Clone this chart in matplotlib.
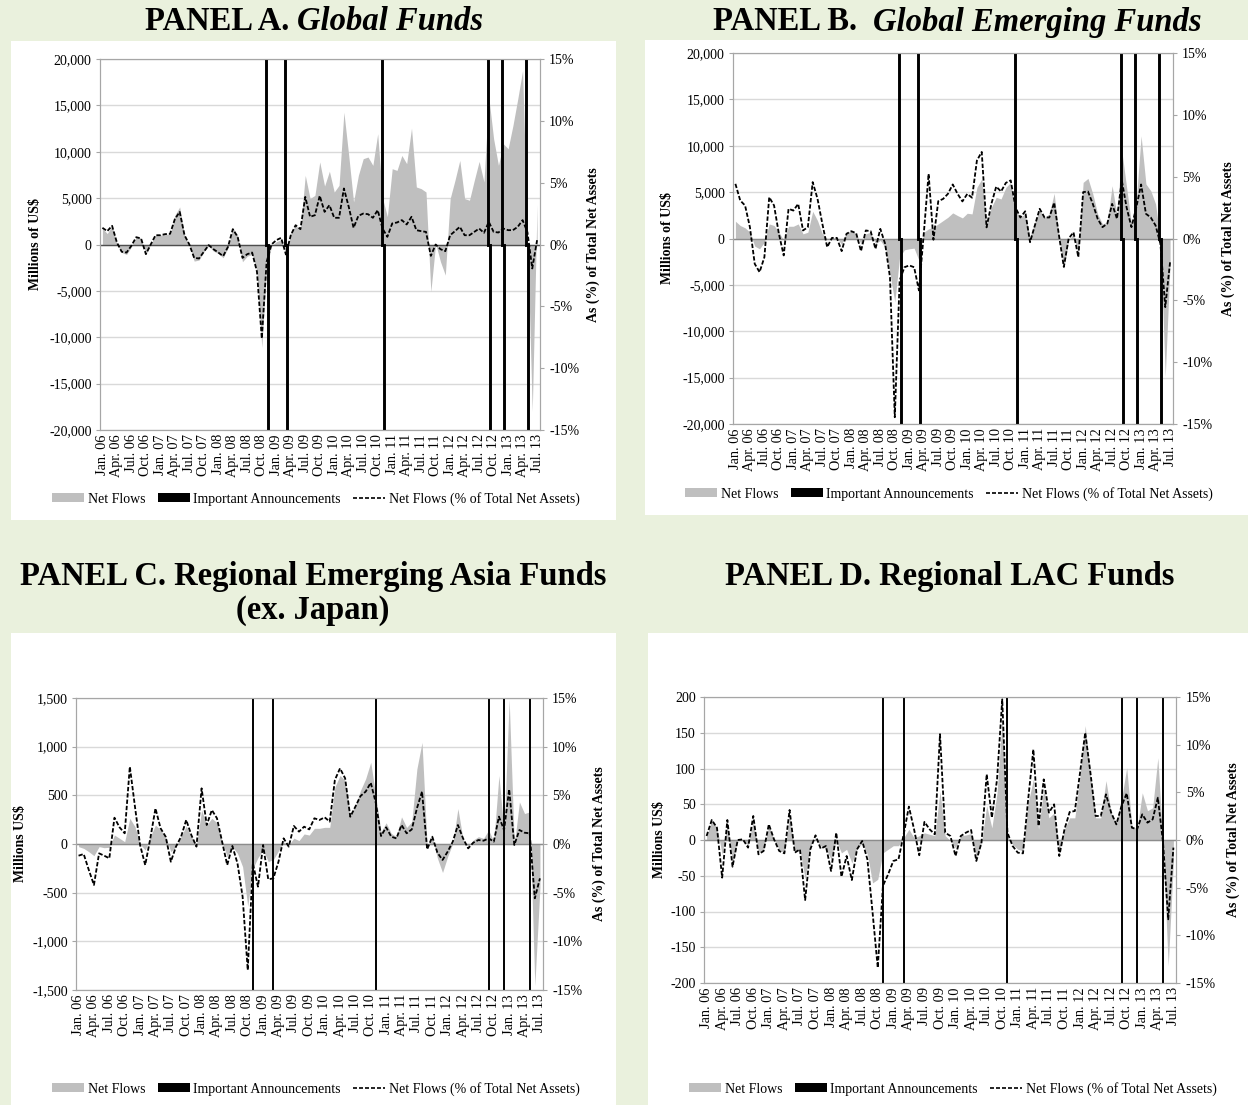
import numpy as np
import matplotlib
matplotlib.use("Agg")
import matplotlib.pyplot as plt
from matplotlib.patches import Patch, Rectangle
from matplotlib.lines import Line2D
from matplotlib.ticker import FuncFormatter, FixedLocator

plt.rcParams['font.family'] = 'Liberation Serif'

# Monthly observations, Jan 2006 - Jul 2013
MONTH_ABBR = ['Jan.', 'Feb.', 'Mar.', 'Apr.', 'May', 'Jun.',
              'Jul.', 'Aug.', 'Sep.', 'Oct.', 'Nov.', 'Dec.']
months = [f"{m} {y:02d}" for y in range(6, 14) for m in MONTH_ABBR][:91]

# Fed announcement months
announcements = ['Nov. 08', 'Mar. 09', 'Nov. 10', 'Sep. 12', 'Dec. 12', 'May 13']

# Panel A: global funds (net flows, millions of US$; % of TNA)
global_flows = [
    1720, 1180, 2000, 100, -860, -1075, -250, 790, 720, -1075,
    0, 1000, 1000, 1110, 1110, 3150, 4050, 1000, -70, -1790,
    -1680, -790, -140, -720, -970, -1430, -360, 1790, 1000, -1860,
    -1250, -1075, -2940, -11100, -2500, -200, 300, 500, -1000, 1300,
    2000, 1700, 7450, 4950, 5300, 8900, 6300, 7900, 5660, 6380,
    14260, 9600, 4590, 7460, 9250, 9430, 8530, 11940, 5000, 3000,
    8170, 7990, 9600, 8710, 12540, 6200, 6020, 5660, -5090, 100,
    -1860, -3300, 4950, 6920, 9070, 4950, 4770, 6920, 8960, 6740,
    15880, 11400, 8530, 10860, 10320, 12830, 15700, 18750, 1000, -18000,
    4300]
global_pct = [
    1.35, 1.08, 1.51, 0.16, -0.59, -0.65, -0.1, 0.59, 0.49, -0.78,
    0.0, 0.75, 0.75, 0.84, 0.86, 2.05, 2.64, 0.75, 0.0, -1.08,
    -1.13, -0.59, -0.05, -0.38, -0.65, -0.94, -0.19, 1.24, 0.62, -1.08,
    -0.78, -0.65, -2.2, -7.6, -1.4, 0.0, 0.35, 0.54, -0.81, 0.75,
    1.56, 1.24, 3.85, 2.24, 2.37, 3.94, 2.64, 3.18, 2.16, 2.16,
    4.53, 3.05, 1.35, 2.32, 2.5, 2.45, 2.16, 2.78, 1.29, 0.62,
    1.7, 1.78, 1.97, 1.62, 2.24, 1.16, 1.08, 1.02, -0.92, 0.0,
    -0.38, -0.54, 0.75, 1.08, 1.43, 0.75, 0.75, 1.02, 1.29, 0.94,
    1.83, 1.02, 0.97, 1.29, 1.16, 1.16, 1.43, 1.97, 1.0, -1.94,
    0.35]

# Panel B: global emerging funds
gem_flows = [
    1860, 1400, 1150, 680, -820, -1110, -390, 1570, 1400, 680,
    -200, 1320, 1320, 1570, 500, 680, 2930, 1930, 500, 0,
    70, 70, -640, 680, 790, 500, -570, 500, 680, -570,
    -210, -930, -3790, -6840, -2000, -1220, -1110, -1040, -2360, 680,
    1040, 1220, 1570, 1930, 2290, 2760, 2470, 2220, 2720, 2650,
    5510, 6400, 1570, 3360, 4440, 4260, 5510, 6050, 3010, 2290,
    2650, 180, 1750, 3010, 2290, 2650, 4870, 180, -3220, -180,
    500, -1790, 6050, 6480, 4800, 2650, 1570, 1750, 5690, 2500,
    9450, 5510, 1570, 4080, 11060, 5870, 5150, 3720, -200, -14890,
    -2720]
gem_pct = [
    4.42, 3.07, 2.67, 0.92, -2.05, -2.72, -1.51, 3.34, 2.67, 0.38,
    -1.37, 2.4, 2.26, 2.8, 0.65, 0.92, 4.56, 3.21, 1.19, -0.7,
    0.05, 0.05, -1.02, 0.38, 0.59, 0.43, -1.02, 0.65, 0.59, -0.84,
    0.78, -0.43, -3.13, -14.45, -3.4, -2.32, -2.18, -2.32, -4.2, 0.38,
    5.23, -0.1, 3.02, 3.2, 3.61, 4.37, 3.61, 3.0, 3.6, 3.3,
    6.3, 7.0, 0.9, 2.8, 4.2, 3.8, 4.5, 4.7, 2.5, 1.7,
    2.2, -0.3, 1.05, 2.4, 1.7, 1.7, 2.9, 0.24, -2.3, 0.0,
    0.5, -1.5, 3.75, 3.8, 2.8, 1.6, 0.92, 1.2, 2.8, 1.6,
    4.7, 2.5, 0.92, 2.5, 4.37, 2.0, 1.7, 1.05, -0.43, -5.55,
    -1.9]

# Panel C: regional emerging Asia (ex. Japan) funds
asia_flows = [
    -27, -45, -79, -120, -27, -38, -34, 92, 58, 24,
    264, 178, 0, -62, 75, 195, 144, 75, -79, -27,
    75, 185, 75, -10, 349, 195, 264, 219, 24, -130,
    -27, -96, -233, -640, -250, -140, -60, -180, -160, -70,
    20, -10, 60, 35, 103, 92, 161, 161, 171, 171,
    585, 704, 653, 296, 398, 551, 670, 840, 483, 126,
    218, 109, 75, 279, 170, 228, 772, 1044, -27, 75,
    -146, -293, -129, 7, 364, 48, -27, 41, 75, 58,
    143, 24, 704, 109, 1486, -10, 432, 313, 330, -1456,
    -450]
asia_pct = [
    -1.2, -1.03, -2.67, -4.21, -0.96, -1.2, -1.47, 2.7, 1.71, 1.1,
    7.95, 3.84, -0.1, -2.16, 0.58, 3.66, 1.61, 0.75, -1.82, -0.27,
    0.75, 2.47, 0.92, -0.27, 5.72, 1.95, 3.49, 2.64, 0.24, -2.16,
    -0.2, -1.99, -5.4, -12.95, -1.99, -4.38, -0.1, -3.63, -3.53, -1.82,
    0.58, -0.27, 1.85, 1.27, 1.78, 1.5, 2.64, 2.47, 2.74, 2.3,
    6.58, 7.77, 6.75, 2.8, 3.84, 4.93, 5.38, 6.3, 4.18, 0.82,
    1.71, 0.75, 0.58, 1.95, 1.1, 1.5, 3.66, 5.38, -0.55, 0.75,
    -0.89, -1.64, -0.79, 0.24, 1.95, 0.58, -0.45, 0.14, 0.41, 0.34,
    0.58, 0.24, 2.81, 1.44, 5.62, -0.1, 1.44, 1.16, 1.1, -5.58,
    -3.53]

# Panel D: regional LAC funds
lac_flows = [
    5, 28, 17, -20, 24, -32, 0, 1, -8, 27,
    -17, -14, 20, 0, -13, -18, 34, -17, -13, -55,
    -8, 3, -8, -12, -27, -1, -18, -13, -32, -13,
    -4, -20, -60, -55, -18, -13, -8, -8, 3, 15,
    3, 6, 10, 8, 6, 68, 6, -1, -11, 6,
    7, 9, -25, -4, 48, 17, 66, 170, 6, -6,
    -13, -15, 52, 85, 15, 71, 31, 38, -18, 15,
    31, 31, 90, 160, 90, 31, 31, 83, 38, 24,
    57, 101, 20, 15, 66, 41, 45, 115, -8, -176,
    -30]
lac_pct = [
    0.42, 2.1, 1.29, -3.95, 2.1, -2.8, 0.0, 0.07, -0.8, 2.52,
    -1.5, -1.15, 1.64, 0.07, -1.15, -1.4, 3.15, -1.33, -0.98, -6.3,
    -0.98, 0.49, -0.91, -0.63, -3.25, 0.77, -3.85, -1.68, -4.2, -0.98,
    -0.1, -2.03, -7.6, -13.4, -4.8, -3.6, -2.2, -2.03, 0.6, 3.5,
    1.12, -1.6, 1.9, 1.12, 0.6, 11.1, 0.77, 0.42, -1.68, 0.42,
    0.77, 1.05, -2.2, -0.28, 6.9, 2.34, 6.36, 14.75, 0.77, -0.63,
    -1.33, -1.4, 4.27, 9.5, 1.47, 6.36, 2.87, 3.74, -1.68, 1.12,
    2.94, 3.04, 7.06, 11.26, 7.06, 2.52, 2.52, 4.79, 2.87, 1.64,
    3.57, 4.9, 1.29, 1.12, 2.69, 1.82, 2.17, 4.44, -0.28, -8.32,
    -0.8]

# Colours
BG = '#EAF1DD'
AREA = '#BFBFBF'
GRID = '#D9D9D9'
SPINE = '#A6A6A6'

W, H = 1248, 1105


def fig_rect(x0, y0, x1, y1):
    """Pixel box (top-left origin) -> figure fraction rect."""
    return [x0 / W, 1 - y1 / H, (x1 - x0) / W, (y1 - y0) / H]


panels = [
    dict(title=[('PANEL A. ', 'normal'), ('Global Funds', 'italic')],
         title_xy=(314, 22), flows=global_flows, pct=global_pct,
         ymax=20000, ystep=5000, ylabel='Millions of US$',
         box=(11, 41, 616, 520), plot=(100, 59, 539.5, 430),
         ylabel_x=(35, 593), legend_xy=(316, 499),
         zero_color='#4D4D4D', vline_w=2.1, split=0.2),
    dict(title=[('PANEL B.  ', 'normal'), ('Global Emerging Funds', 'italic')],
         title_xy=(957, 22), flows=gem_flows, pct=gem_pct,
         ymax=20000, ystep=5000, ylabel='Millions of US$',
         box=(645, 40, 1248, 515), plot=(733, 53, 1172.5, 424),
         ylabel_x=(668, 1228), legend_xy=(949, 494),
         zero_color='#8C8C8C', vline_w=2.1, split=0.2),
    dict(title=[('PANEL C. Regional Emerging Asia Funds', 'normal')],
         title2='(ex. Japan)',
         title_xy=(313, 577), flows=asia_flows, pct=asia_pct,
         ymax=1500, ystep=500, ylabel='Millions US$',
         box=(11, 633, 616, 1105), plot=(76, 698, 542.5, 990),
         ylabel_x=(21, 599), legend_xy=(316, 1089),
         zero_color='#8C8C8C', vline_w=1.4, split=0.0),
    dict(title=[('PANEL D. Regional LAC Funds', 'normal')],
         title_xy=(950, 577), flows=lac_flows, pct=lac_pct,
         ymax=200, ystep=50, ylabel='Millions US$',
         box=(648, 633, 1248, 1105), plot=(704, 697, 1176, 983),
         ylabel_x=(660, 1233), legend_xy=(953, 1089),
         zero_color='#8C8C8C', vline_w=1.4, split=0.0),
]

fig = plt.figure(figsize=(W / 100, H / 100), dpi=100, facecolor=BG)
renderer = fig.canvas.get_renderer()

x = np.arange(len(months))
ann_idx = [months.index(a) for a in announcements]

legend_handles = [
    Patch(facecolor=AREA, edgecolor='none', label='Net Flows'),
    Patch(facecolor='black', edgecolor='none', label='Important Announcements'),
    Line2D([], [], color='black', lw=1.2, dashes=(2.4, 1.2),
           label='Net Flows (% of Total Net Assets)'),
]

for p in panels:
    # white panel background, kept behind the axes
    bx0, by0, bx1, by1 = p['box']
    fig.patches.append(Rectangle((bx0 / W, 1 - by1 / H), (bx1 - bx0) / W, (by1 - by0) / H,
                                 transform=fig.transFigure, facecolor='white',
                                 edgecolor='none', zorder=-5))

    ax = fig.add_axes(fig_rect(*p['plot']))
    ax.set_xlim(-0.5, len(months) - 0.5)
    ym = p['ymax']
    ax.set_ylim(-ym, ym)
    ax.yaxis.set_major_locator(FixedLocator(np.arange(-ym, ym + 1, p['ystep'])))
    ax.yaxis.set_major_formatter(FuncFormatter(lambda v, _: f"{v:,.0f}"))
    ax.set_axisbelow(True)
    ax.yaxis.grid(True, color=GRID, lw=1.0)

    ax.fill_between(x, p['flows'], 0, color=AREA, lw=0, zorder=2)
    ax.axhline(0, color=p['zero_color'], lw=1.0, zorder=2.5)

    for k in ann_idx:
        ax.axvline(k - p['split'], ymin=0.5, ymax=1, color='black',
                   lw=p['vline_w'], zorder=3)
        ax.axvline(k + p['split'], ymin=0, ymax=0.5, color='black',
                   lw=p['vline_w'], zorder=3)

    ax.set_xticks(x[::3])
    ax.set_xticklabels(months[::3], rotation=90, fontsize=10.3)
    ax.tick_params(axis='x', length=0, pad=3)
    ax.tick_params(axis='y', labelsize=10, length=3, color=SPINE, pad=3)
    for s in ax.spines.values():
        s.set_color(SPINE)

    ax2 = ax.twinx()
    ax2.set_ylim(-15, 15)
    ax2.yaxis.set_major_locator(FixedLocator(np.arange(-15, 16, 5)))
    ax2.yaxis.set_major_formatter(FuncFormatter(lambda v, _: f"{v:.0f}%"))
    ax2.tick_params(axis='y', labelsize=10, length=3, color=SPINE, pad=4)
    for s in ax2.spines.values():
        s.set_color(SPINE)
    ax2.plot(x, p['pct'], color='black', lw=1.3, dashes=(2.4, 1.1), zorder=4)

    # axis titles
    px0, py0, px1, py1 = p['plot']
    ymid = 1 - (py0 + py1) / 2 / H
    fig.text(p['ylabel_x'][0] / W, ymid, p['ylabel'], rotation=90, ha='center',
             va='center', fontsize=10, fontweight='bold')
    fig.text(p['ylabel_x'][1] / W, ymid, 'As (%) of Total Net Assets', rotation=90,
             ha='center', va='center', fontsize=10, fontweight='bold')

    # panel title, possibly mixing upright and italic runs, centred as a whole
    tx, ty = p['title_xy']
    parts = [fig.text(0, 1 - ty / H, s, fontsize=23.5, fontweight='bold', style=st,
                      va='center', ha='left') for s, st in p['title']]
    widths = [t.get_window_extent(renderer).width for t in parts]
    start = tx - sum(widths) / 2
    for t, w in zip(parts, widths):
        t.set_x(start / W)
        start += w
    if 'title2' in p:
        fig.text(tx / W, 1 - (ty + 34) / H, p['title2'], fontsize=23.5,
                 fontweight='bold', ha='center', va='center')

    lx, ly = p['legend_xy']
    fig.legend(handles=legend_handles, loc='center', ncol=3,
               bbox_to_anchor=(lx / W, 1 - ly / H), frameon=False, fontsize=10,
               handlelength=2.3, handleheight=0.6, handletextpad=0.25,
               columnspacing=0.9)

fig.savefig('out.png', dpi=100, facecolor=BG)
